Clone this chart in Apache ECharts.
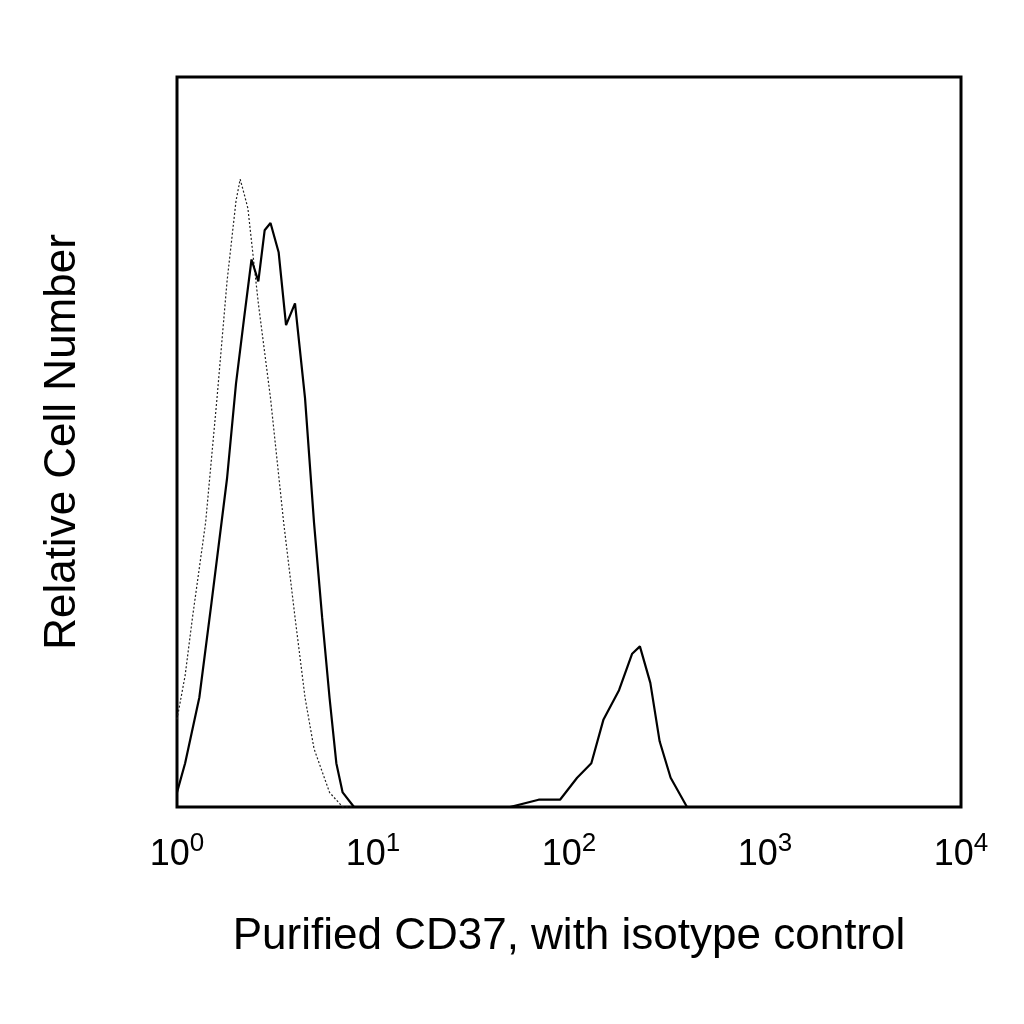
<!DOCTYPE html><html><head><meta charset="utf-8"><script src="https://cdn.jsdelivr.net/npm/echarts@6/dist/echarts.min.js"></script></head><body style="margin:0"><div id="c" style="width:1024px;height:1024px"></div><script>
const isoX=[1.0,1.1,1.2,1.4,1.6,1.8,2.0,2.1,2.2,2.3,2.6,3.0,3.5,4.0,4.5,5,6,7,8];
const isoY=[12,18,26,39,56,72,83,86,84,82,69,56,39,26,15,8,2,0,0];
const cdX=[1.0,1.1,1.3,1.5,1.8,2.0,2.2,2.4,2.6,2.8,3.0,3.3,3.6,4.0,4.5,5.0,5.5,6.0,6.5,7,8,50,70,90,110,130,150,180,210,230,260,290,330,400];
const cdY=[2,6,15,28,45,58,67,75,72,79,80,76,66,69,56,39,26,15,6,2,0,0,1,1,4,6,12,16,21,22,17,9,4,0];
const tickLabels=['0','1','2','3','4'];
const chart=echarts.init(document.getElementById('c'));
chart.setOption({
 animation:false,
 grid:{left:177,right:63,top:77,bottom:217,show:true,borderColor:'#000',borderWidth:3},
 xAxis:{type:'log',logBase:10,min:1,max:10000,name:'Purified CD37, with isotype control',nameLocation:'middle',nameGap:108,
  nameTextStyle:{fontSize:44,fontFamily:'Liberation Sans',color:'#000'},
  axisLine:{show:false},axisTick:{show:false},splitLine:{show:false},
  axisLabel:{margin:24,formatter:v=>'10{s|'+tickLabels[Math.round(Math.log10(v))]+'}',
   fontSize:36,fontFamily:'Liberation Sans',color:'#000',rich:{s:{fontSize:26,verticalAlign:'top',padding:[0,0,22,0],fontFamily:'Liberation Sans'}}}},
 yAxis:{type:'value',min:0,max:100,name:'Relative Cell Number',nameLocation:'middle',nameGap:92,
  nameTextStyle:{fontSize:44,fontFamily:'Liberation Sans',color:'#000'},
  axisLine:{show:false},axisTick:{show:false},axisLabel:{show:false},splitLine:{show:false}},
 series:[
  {type:'line',showSymbol:false,data:isoX.map((x,i)=>[x,isoY[i]]),lineStyle:{color:'#222',width:1.2,type:[2,2]}},
  {type:'line',showSymbol:false,data:cdX.map((x,i)=>[x,cdY[i]]),lineStyle:{color:'#000',width:2.2}}
 ]});
</script></body></html>
